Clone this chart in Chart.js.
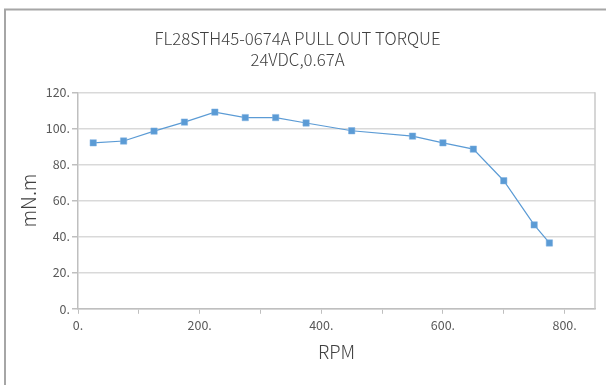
<!DOCTYPE html>
<html>
<head>
<meta charset="utf-8">
<script src="https://cdn.jsdelivr.net/npm/chart.js@4.4.0/dist/chart.umd.min.js"></script>
<style>
    html, body { margin: 0; padding: 0; background: #fff; }
    #wrap { width: 606px; height: 385px; }
</style>
</head>
<body>
<div id="wrap"><canvas id="torqueChart" width="606" height="385"></canvas></div>
<script>
// pull out torque curve
const rpm = [25, 75, 125, 175, 225, 275, 325, 375, 450, 550, 600, 650, 700, 750, 775];
const torque = [92, 93, 98.5, 103.5, 109, 106, 106, 103, 98.7, 95.7, 92, 88.5, 71, 46.5, 36.5];
const xTicks = [0, 100, 200, 300, 400, 500, 600, 700, 800];
const yTicks = [0, 20, 40, 60, 80, 100, 120];
const titleLines = ['FL28STH45-0674A PULL OUT TORQUE', '24VDC,0.67A'];

const fontFam = "'Noto Sans CJK SC', 'Noto Sans', sans-serif";

// outer chart border + right edge of the plot frame
const framePlugin = {
    id: 'frame',
    beforeDraw(chart) {
        const c = chart.ctx;
        c.save();
        c.strokeStyle = '#a6a6a6';
        c.lineWidth = 2;
        c.beginPath();
        c.moveTo(5, 400);
        c.lineTo(5, 9.5);
        c.lineTo(620, 9.5);
        c.stroke();
        c.restore();
    },
    afterDraw(chart) {
        const a = chart.chartArea;
        const c = chart.ctx;
        c.save();
        c.strokeStyle = '#c8c8c8';
        c.lineWidth = 1.5;
        c.beginPath();
        c.moveTo(a.right, a.top);
        c.lineTo(a.right, a.bottom);
        c.stroke();
        c.restore();
    }
};

const ctx = document.getElementById('torqueChart').getContext('2d');

new Chart(ctx, {
    type: 'scatter',
    data: {
        datasets: [{
            label: 'Torque',
            data: rpm.map((r, i) => ({ x: r, y: torque[i] })),
            showLine: true,
            borderColor: '#5b9bd5',
            borderWidth: 1.2,
            backgroundColor: '#5b9bd5',
            pointStyle: 'rect',
            pointRadius: 4.5,
            pointBorderColor: '#7fb1e0',
            pointBorderWidth: 0.5,
            tension: 0
        }]
    },
    options: {
        responsive: false,
        animation: false,
        layout: { padding: { left: 0, right: 11, top: 0, bottom: 0 } },
        plugins: {
            legend: { display: false },
            tooltip: { enabled: false },
            title: {
                display: true,
                text: titleLines,
                color: '#404040',
                font: { family: fontFam, size: 16.8, weight: 300, lineHeight: 1.2 },
                padding: { top: 29, bottom: 23 }
            }
        },
        scales: {
            x: {
                type: 'linear',
                min: 0,
                max: 850,
                afterBuildTicks: axis => { axis.ticks = xTicks.map(v => ({ value: v })); },
                ticks: {
                    autoSkip: false,
                    maxRotation: 0,
                    color: '#595959',
                    padding: 4,
                    font: { family: fontFam, size: 12.5, weight: 'normal' },
                    callback: v => (v % 200 === 0 ? v + '.' : '')
                },
                grid: { drawOnChartArea: false, color: '#bfbfbf', tickLength: 5, lineWidth: 1 },
                border: { color: '#bfbfbf', width: 1.5 },
                title: {
                    display: true,
                    text: 'RPM',
                    color: '#404040',
                    font: { family: fontFam, size: 18.5, weight: 300 },
                    padding: { top: 4, bottom: 22 }
                }
            },
            y: {
                min: 0,
                max: 120,
                afterBuildTicks: axis => { axis.ticks = yTicks.map(v => ({ value: v })); },
                ticks: {
                    color: '#595959',
                    padding: 2,
                    font: { family: fontFam, size: 12.5, weight: 'normal' },
                    callback: v => v + '.'
                },
                grid: { color: '#d9d9d9', lineWidth: 1.5, tickLength: 6, tickColor: '#bfbfbf' },
                border: { color: '#bfbfbf', width: 1.5 },
                afterFit: axis => { axis.width = 78; },
                title: {
                    display: true,
                    text: 'mN.m',
                    color: '#404040',
                    font: { family: fontFam, size: 19.5, weight: 300 },
                    padding: { top: 17, bottom: 8 }
                }
            }
        }
    },
    plugins: [framePlugin]
});
</script>
</body>
</html>
